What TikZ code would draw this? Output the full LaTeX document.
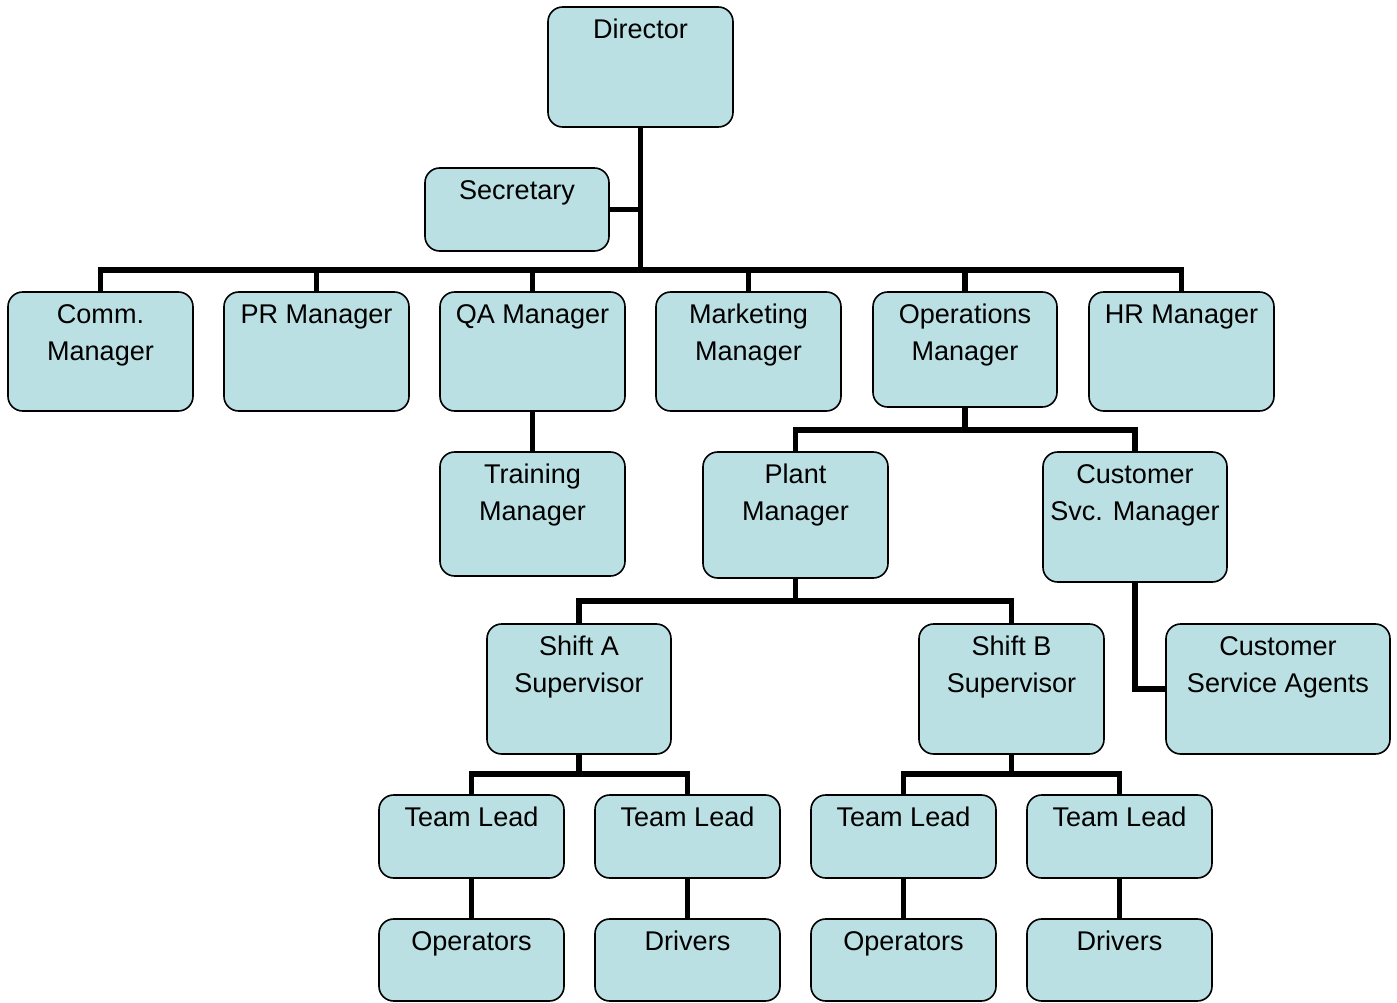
\documentclass[tikz,border=0pt]{standalone}
\usepackage{fontspec}
\setmainfont{Liberation Sans}
\newdimen\pxu \pxu=0.75pt
\newcommand\BX[3]{\parbox[c][#2\pxu][t]{#1\pxu}{\centering\rule{0pt}{31\pxu}#3}}
\definecolor{boxfill}{HTML}{BAE0E3}
\begin{document}
\begin{tikzpicture}[x=0.75pt,y=-0.75pt,
  box/.style={draw, line width=1.2pt, rounded corners=11pt, fill=boxfill, inner sep=0pt, outer sep=0pt, anchor=north west, font=\fontsize{20.3pt}{27.75pt}\selectfont},
  conn/.style={line width=4.2pt, line join=miter}]
\useasboundingbox (0,0) rectangle (1397,1003);
% coordinates for buses
\coordinate (bus1) at (640.5,270);
\coordinate (opsbus) at (965,430);
\coordinate (plantbus) at (795.5,601);
\coordinate (shAbus) at (579,774);
\coordinate (shBbus) at (1011.5,774);
% boxes
\node[box] (dir) at (548,7) {\BX{185}{120}{Director}};
\node[box] (sec) at (425,168) {\BX{184}{83}{Secretary}};
\node[box] (comm) at (8,292) {\BX{185}{119}{Comm.\\Manager}};
\node[box] (pr) at (224,292) {\BX{185}{119}{PR Manager}};
\node[box] (qa) at (440,292) {\BX{185}{119}{QA Manager}};
\node[box] (mkt) at (656,292) {\BX{185}{119}{Marketing\\Manager}};
\node[box] (ops) at (873,292) {\BX{184}{115}{Operations\\Manager}};
\node[box] (hr) at (1089,292) {\BX{185}{119}{HR Manager}};
\node[box] (tr) at (440,452) {\BX{185}{124}{Training\\Manager}};
\node[box] (plant) at (703,452) {\BX{185}{126}{Plant\\Manager}};
\node[box] (csm) at (1043,452) {\BX{184}{130}{Customer\\Svc. Manager}};
\node[box] (shA) at (487,624) {\BX{184}{130}{Shift A\\Supervisor}};
\node[box] (shB) at (919,624) {\BX{185}{130}{Shift B\\Supervisor}};
\node[box] (csa) at (1166,624) {\BX{224}{130}{Customer\\Service Agents}};
\node[box] (tl1) at (379,795) {\BX{185}{83}{Team Lead}};
\node[box] (tl2) at (595,795) {\BX{185}{83}{Team Lead}};
\node[box] (tl3) at (811,795) {\BX{185}{83}{Team Lead}};
\node[box] (tl4) at (1027,795) {\BX{185}{83}{Team Lead}};
\node[box] (op1) at (379,919) {\BX{185}{82}{Operators}};
\node[box] (dr1) at (595,919) {\BX{185}{82}{Drivers}};
\node[box] (op2) at (811,919) {\BX{185}{82}{Operators}};
\node[box] (dr2) at (1027,919) {\BX{185}{82}{Drivers}};
% connectors
\draw[conn] (dir.south) -- (bus1);
\draw[conn] (sec.east) -- (sec.east -| bus1);
\draw[conn] (comm.north) |- (bus1);
\draw[conn] (hr.north) |- (bus1);
\draw[conn] (pr.north) -- (pr.north |- bus1);
\draw[conn] (qa.north) -- (qa.north |- bus1);
\draw[conn] (mkt.north) -- (mkt.north |- bus1);
\draw[conn] (ops.north) -- (ops.north |- bus1);
\draw[conn] (qa.south) -- (tr.north);
\draw[conn] (ops.south) -- (opsbus);
\draw[conn] (plant.north) |- (opsbus);
\draw[conn] (csm.north) |- (opsbus);
\draw[conn] (plant.south) -- (plantbus);
\draw[conn] (shA.north) |- (plantbus);
\draw[conn] (shB.north) |- (plantbus);
\draw[conn] (csm.south) |- (csa.west);
\draw[conn] (shA.south) -- (shAbus);
\draw[conn] (tl1.north) |- (shAbus);
\draw[conn] (tl2.north) |- (shAbus);
\draw[conn] (shB.south) -- (shBbus);
\draw[conn] (tl3.north) |- (shBbus);
\draw[conn] (tl4.north) |- (shBbus);
\draw[conn] (tl1.south) -- (op1.north);
\draw[conn] (tl2.south) -- (dr1.north);
\draw[conn] (tl3.south) -- (op2.north);
\draw[conn] (tl4.south) -- (dr2.north);
\end{tikzpicture}
\end{document}
